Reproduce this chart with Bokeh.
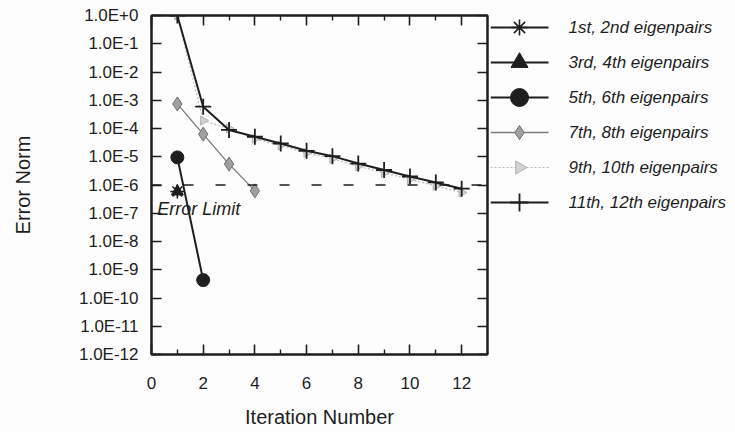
import math
from bokeh.plotting import figure
from bokeh.layouts import row
from bokeh.models import (FixedTicker, CustomJSTickFormatter, LinearAxis, LogAxis,
                          Span, Label, Range1d, ColumnDataSource)
from bokeh.core.properties import value
from bokeh.embed import file_html
from bokeh.resources import INLINE

# ---------------- data ----------------
it_1_2 = [1]
err_1_2 = [5.9e-7]

it_3_4 = [1]
err_3_4 = [5.9e-7]

it_5_6 = [1, 2]
err_5_6 = [9.5e-6, 4.3e-10]

it_7_8 = [1, 2, 3, 4]
err_7_8 = [7.4e-4, 6.3e-5, 5.5e-6, 6.2e-7]

it_9_10 = [1, 2, 3, 4, 5, 6, 7, 8, 9, 10, 11, 12]
err_9_10 = [1.0, 1.9e-4, 1.0e-4, 4.3e-5, 2.5e-5, 1.35e-5, 8.5e-6, 4.6e-6,
            2.7e-6, 1.6e-6, 9.3e-7, 5.4e-7]

it_11_12 = [1, 2, 3, 4, 5, 6, 7, 8, 9, 10, 11, 12]
err_11_12 = [1.0, 5.9e-4, 8.9e-5, 5.1e-5, 2.95e-5, 1.62e-5, 1.05e-5, 5.75e-6,
             3.4e-6, 2.0e-6, 1.23e-6, 7.4e-7]

error_limit = 1e-6
error_label = "Error Limit"
error_label_pos = (0.22, 1.45e-7)

x_major_ticks = [0, 2, 4, 6, 8, 10, 12]
x_minor_ticks = [1, 3, 5, 7, 9, 11]
y_ticks = [10.0 ** (-k) for k in range(0, 13)]
x_limits = (0, 13)
y_limits = (1e-12, 1.0)

labels = ["1st, 2nd eigenpairs", "3rd, 4th eigenpairs", "5th, 6th eigenpairs",
          "7th, 8th eigenpairs", "9th, 10th eigenpairs", "11th, 12th eigenpairs"]

# ---------------- styles ----------------
FONT = "Liberation Sans"
INK = "#1e1e1e"
BG = "#fdfdfd"
H = 432
BT, FH = 15, 339

series_style = [
    dict(line=dict(line_color=INK, line_width=2),
         mark=dict(marker="asterisk", line_color=INK, line_width=1.6), size=14, lsize=16),
    dict(line=dict(line_color=INK, line_width=2),
         mark=dict(marker="triangle", fill_color=INK, line_color=INK), size=12, lsize=17),
    dict(line=dict(line_color=INK, line_width=2),
         mark=dict(marker="circle", fill_color=INK, line_color=INK), size=13, lsize=18),
    dict(line=dict(line_color="#7a7a7a", line_width=1.3),
         mark=dict(marker="diamond", fill_color="#a0a0a0", line_color="#6e6e6e"), size=14, lsize=14),
    dict(line=dict(line_color="#b8b8b8", line_width=1.2, line_dash="2 2"),
         mark=dict(marker="triangle", angle=-math.pi / 2, fill_color="#d2d2d2",
                   line_color="#b0b0b0"), size=9, lsize=13),
    dict(line=dict(line_color=INK, line_width=2),
         mark=dict(marker="cross", line_color=INK, line_width=1.8), size=16, lsize=18),
]
series_data = [(it_1_2, err_1_2), (it_3_4, err_3_4), (it_5_6, err_5_6),
               (it_7_8, err_7_8), (it_9_10, err_9_10), (it_11_12, err_11_12)]
draw_order = [0, 1, 2, 4, 3, 5]

# ---------------- main plot ----------------
p = figure(frame_width=336, frame_height=FH, y_axis_type="log",
           x_range=Range1d(*x_limits), y_range=Range1d(*y_limits),
           output_backend="svg", toolbar_location=None,
           min_border_left=151, min_border_top=BT, min_border_bottom=78,
           min_border_right=3,
           background_fill_color=BG, border_fill_color=BG)
p.grid.visible = False
p.outline_line_color = INK
p.outline_line_width = 2

yfmt = CustomJSTickFormatter(code="""
const e = Math.round(Math.log10(tick));
return "1.0E" + (e >= 0 ? "+" + e : "" + e);
""")
blank = CustomJSTickFormatter(code="return '';")
xticker = FixedTicker(ticks=x_major_ticks, minor_ticks=x_minor_ticks)
yticker = FixedTicker(ticks=y_ticks, minor_ticks=[])

xa = p.xaxis[0]
xa.ticker = xticker
xa.axis_label = "Iteration Number"
ya = p.yaxis[0]
ya.ticker = yticker
ya.formatter = yfmt
ya.axis_label = "Error Norm"

top = LinearAxis(ticker=xticker, formatter=blank)
right = LogAxis(ticker=yticker, formatter=blank)
p.add_layout(top, "above")
p.add_layout(right, "right")

for ax in [xa, ya, top, right]:
    ax.axis_line_color = INK
    ax.axis_line_width = 2
    ax.major_tick_line_color = INK
    ax.major_tick_line_width = 1.6
    ax.major_tick_in = 10
    ax.major_tick_out = 0
    ax.minor_tick_line_color = INK
    ax.minor_tick_line_width = 1.4
    ax.minor_tick_in = 5
    ax.minor_tick_out = 0
    ax.major_label_text_font = FONT
    ax.major_label_text_font_size = "17px"
    ax.major_label_text_color = INK
    ax.axis_label_text_font = FONT
    ax.axis_label_text_font_size = "20px"
    ax.axis_label_text_font_style = "normal"
    ax.axis_label_text_color = INK
for ax in [ya, right]:
    ax.minor_tick_line_color = None
top.major_label_standoff = 0
right.major_label_standoff = 0

xa.major_label_standoff = 22
xa.axis_label_standoff = 14
ya.major_label_standoff = 13
ya.axis_label_standoff = 42

p.add_layout(Span(location=error_limit, dimension="width", line_color=INK,
                  line_width=1.6, line_dash="10 22"))
p.add_layout(Label(x=error_label_pos[0], y=error_label_pos[1], text=error_label,
                   text_font=FONT, text_font_size="18px", text_font_style="italic",
                   text_color=INK, text_baseline="middle", text_align="left"))

for i in draw_order:
    xs, ys = series_data[i]
    st = series_style[i]
    p.line(xs, ys, **st["line"])
    p.scatter(xs, ys, size=st["size"], **st["mark"])

# ---------------- legend panel (separate figure to the right) ----------------
# its frame is aligned with the main frame (page y BT .. BT+FH), so its y range
# is expressed in page pixels
LW = 245
row_top, row_pitch = 27, 35
line_x0, line_x1, text_x = 0, 58, 78
q = figure(width=LW, height=H, x_range=Range1d(0, LW), y_range=Range1d(BT + FH, BT),
           output_backend="svg", toolbar_location=None,
           min_border=0, background_fill_color=BG, border_fill_color=BG)
q.axis.visible = False
q.grid.visible = False
q.outline_line_color = None

row_y = [row_top + i * row_pitch for i in range(len(labels))]
for i, yy in enumerate(row_y):
    st = series_style[i]
    src = ColumnDataSource(dict(x0=[line_x0], x1=[line_x1], y=[yy],
                                xm=[(line_x0 + line_x1) / 2]))
    q.segment(x0="x0", y0="y", x1="x1", y1="y", source=src, **st["line"])
    q.scatter(x="xm", y="y", source=src, size=st["lsize"], **st["mark"])

q.text(x=[text_x] * len(labels), y=row_y, text=labels,
       text_font=value(FONT), text_font_size="17px", text_font_style="italic",
       text_color=INK, text_baseline="middle", text_align="left")

layout = row(p, q, spacing=0)
open("out.html", "w").write(file_html(layout, INLINE))
